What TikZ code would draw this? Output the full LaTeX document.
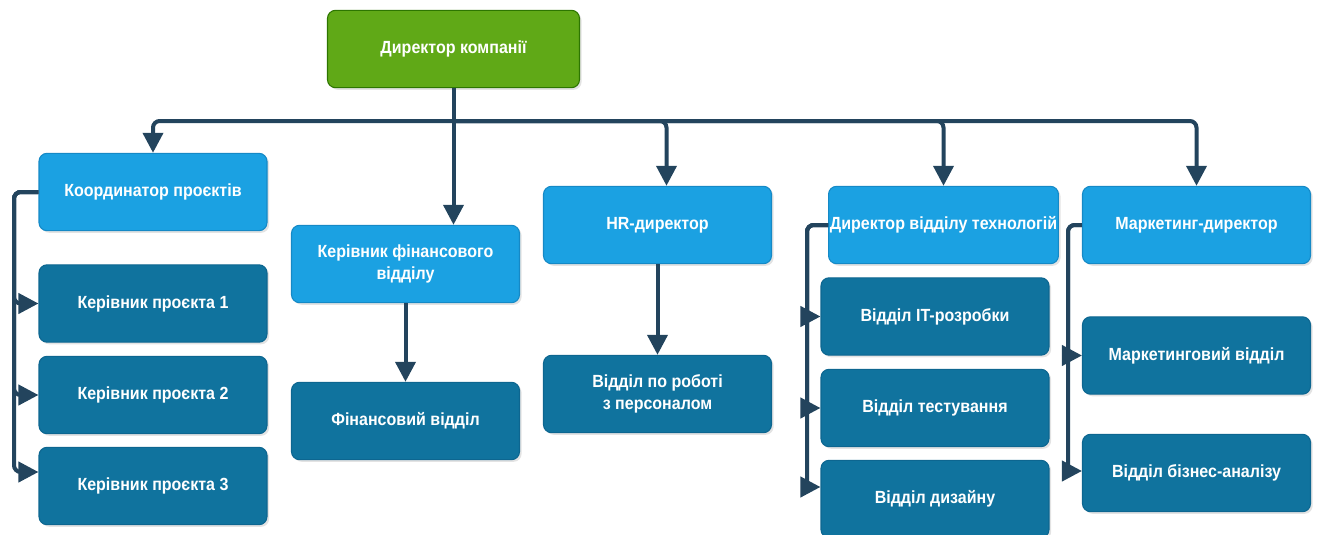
\documentclass[tikz,border=0pt]{standalone}
\usepackage{fontspec}
\newfontfamily\boxfont{Liberation Sans}[FakeStretch=0.91]
\usetikzlibrary{arrows.meta,calc,shadows}
\definecolor{topgreen}{HTML}{60A917}
\definecolor{topgreenline}{HTML}{2D7600}
\definecolor{headblue}{HTML}{1BA1E2}
\definecolor{headblueline}{HTML}{1589C6}
\definecolor{deptblue}{HTML}{10739E}
\definecolor{deptblueline}{HTML}{0D6690}
\definecolor{linknavy}{HTML}{23445D}
\begin{document}
\begin{tikzpicture}[x=0.75pt,y=-0.75pt,
  box/.style={rounded corners=6pt, line width=0.8pt, text=white,
    font=\boxfont\bfseries\fontsize{13.2}{17}\selectfont, align=center,
    minimum width=171pt, minimum height=58pt, inner sep=1pt,
    drop shadow={shadow xshift=1.6pt, shadow yshift=-1.6pt, opacity=0.22}},
  topbox/.style={box, fill=topgreen, draw=topgreenline, minimum width=189pt},
  headbox/.style={box, fill=headblue, draw=headblueline},
  deptbox/.style={box, fill=deptblue, draw=deptblueline},
  link/.style={draw=linknavy, line width=3pt, rounded corners=5pt,
    -{Triangle[length=15pt,width=15pt]}},
  plain/.style={draw=linknavy, line width=3pt}]
\path[use as bounding box] (0,0) rectangle (1321,535);
\clip (0,0) rectangle (1321,535);

% top level
\node[topbox] (dir) at (453.5,49) {Директор компанії};

% second level
\node[headbox] (coord) at (153,192) {Координатор проєктів};
\node[headbox] (fin) at (405.5,264) {Керівник фінансового\\відділу};
\node[headbox] (hr) at (657.5,225) {HR-директор};
\node[headbox] (tech) at (943.5,225) {Директор відділу технологій};
\node[headbox] (mkt) at (1196.5,225) {Маркетинг-директор};

% departments
\node[deptbox] (p1) at (153,303.5) {Керівник проєкта 1};
\node[deptbox] (p2) at (153,395) {Керівник проєкта 2};
\node[deptbox] (p3) at (153,486) {Керівник проєкта 3};
\node[deptbox] (findep) at (405.5,421) {Фінансовий відділ};
\node[deptbox] (hrdep) at (657.5,394) {Відділ по роботі\\з персоналом};
\node[deptbox] (it) at (935,316.5) {Відділ IT-розробки};
\node[deptbox] (test) at (935,408) {Відділ тестування};
\node[deptbox] (des) at (935,499) {Відділ дизайну};
\node[deptbox] (mdep) at (1196.5,355.5) {Маркетинговий відділ};
\node[deptbox] (bdep) at (1196.5,473) {Відділ бізнес-аналізу};

% bus under the director
\coordinate (bus) at (453.5,121);
\draw[plain] (dir.south) -- (bus);
\draw[link] (bus) -| (coord.north);
\draw[link] (bus) -- (bus |- fin.north);
\draw[link] (bus) -| ($(hr.north)+(9,0)$);
\draw[link] (bus) -| (tech.north);
\draw[link] (bus) -| (mkt.north);

% coordinator branch
\coordinate (cl) at (14,192);
\draw[link] (coord.west) -- (cl) |- (p1.west);
\draw[link] (coord.west) -- (cl) |- (p2.west);
\draw[link] (coord.west) -- (cl) |- ($(p3.west)+(0,-14)$);

% finance and HR
\draw[link] (fin.south) -- (findep.north);
\draw[link] (hr.south) -- (hrdep.north);

% technology branch
\coordinate (tl) at (807,225);
\draw[link] (tech.west) -- (tl) |- (it.west);
\draw[link] (tech.west) -- (tl) |- (test.west);
\draw[link] (tech.west) -- (tl) |- ($(des.west)+(0,-12)$);

% marketing branch
\coordinate (ml) at (1068,225);
\draw[link] (mkt.west) -- (ml) |- (mdep.west);
\draw[link] (mkt.west) -- (ml) |- ($(bdep.west)+(0,-2)$);
\end{tikzpicture}
\end{document}
